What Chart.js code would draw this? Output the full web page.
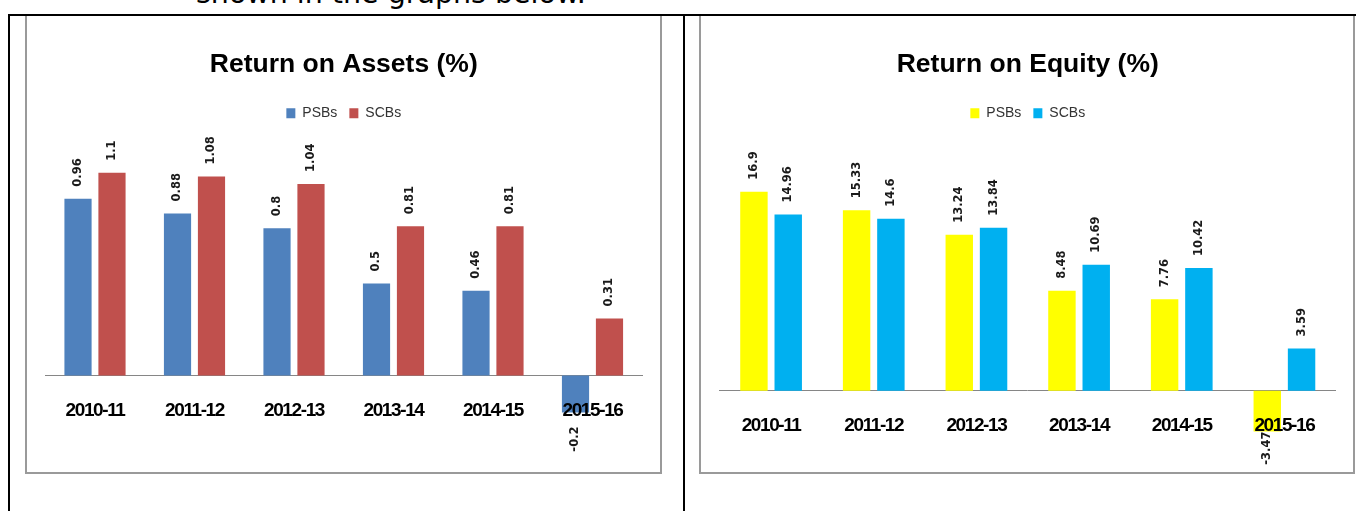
<!DOCTYPE html>
<html>
<head>
<meta charset="utf-8">
<title>Return on Assets / Return on Equity</title>
<script src="https://cdn.jsdelivr.net/npm/chart.js@4.4.0/dist/chart.umd.min.js"></script>
<style>
  html, body { margin: 0; padding: 0; background: #fff; }
  body { width: 1356px; height: 511px; position: relative; overflow: hidden; }
  .lead { position: absolute; left: 196px; top: -20px; font: 28.5px/1 "DejaVu Sans", sans-serif; color: #000; white-space: nowrap; }
  .box { position: absolute; top: 14px; height: 460px; border: 2px solid #9a9a9a; box-sizing: border-box; }
  .rule-h { position: absolute; left: 8px; top: 14px; width: 1348px; height: 2px; background: #000; }
  .rule-v { position: absolute; top: 14px; width: 2px; height: 497px; background: #000; }
  canvas { position: absolute; }
</style>
</head>
<body>
<div class="lead">shown in the graphs below.</div>

<div class="box" style="left:25px;width:637px"></div>
<div class="box" style="left:699px;width:656px"></div>
<canvas id="roaChart" width="633" height="456" style="left:27px;top:16px"></canvas>
<canvas id="roeChart" width="652" height="456" style="left:701px;top:16px"></canvas>

<div class="rule-h"></div>
<div class="rule-v" style="left:8px"></div>
<div class="rule-v" style="left:683px"></div>

<script>
'use strict';

// data
const years = ['2010-11', '2011-12', '2012-13', '2013-14', '2014-15', '2015-16'];
const seriesNames = ['PSBs', 'SCBs'];

const roaPSBs = [0.96, 0.88, 0.8, 0.5, 0.46, -0.2];
const roaSCBs = [1.1, 1.08, 1.04, 0.81, 0.81, 0.31];

const roePSBs = [16.9, 15.33, 13.24, 8.48, 7.76, -3.47];
const roeSCBs = [14.96, 14.6, 13.84, 10.69, 10.42, 3.59];

const SANS = "'Liberation Sans', Arial, sans-serif";

// rotated value labels above (or below) each bar, like the Excel original.
// The x tick labels are drawn after the datasets (ticks.z: 1), so the tight
// letter spacing set at the end here only applies to the category labels.
const barValueLabels = {
    id: 'barValueLabels',
    beforeDraw(chart) {
        chart.ctx.letterSpacing = '0px';
    },
    afterDatasetsDraw(chart, args, opts) {
        const ctx = chart.ctx;
        ctx.save();
        ctx.font = opts.font;
        ctx.fillStyle = opts.color;
        ctx.textBaseline = 'middle';
        chart.data.datasets.forEach((ds, i) => {
            chart.getDatasetMeta(i).data.forEach((bar, j) => {
                const v = ds.data[j];
                const neg = v < 0;
                ctx.save();
                ctx.translate(bar.x, neg ? bar.y + opts.negGap : bar.y - opts.gap);
                ctx.rotate(-Math.PI / 2);
                ctx.textAlign = neg ? 'right' : 'left';
                ctx.fillText(String(v), 0, 0);
                ctx.restore();
            });
        });
        ctx.restore();
        ctx.letterSpacing = opts.tickSpacing;
    },
    afterDraw(chart) {
        chart.ctx.letterSpacing = '0px';
    }
};

function makeChart(canvasId, title, psb, scb, colors, yMin, yMax, catPct, padLeft, padRight, negGap) {
    const ctx = document.getElementById(canvasId).getContext('2d');
    return new Chart(ctx, {
        type: 'bar',
        data: {
            labels: years,
            datasets: [
                { label: seriesNames[0], data: psb, backgroundColor: colors[0], categoryPercentage: catPct, barPercentage: 0.8 },
                { label: seriesNames[1], data: scb, backgroundColor: colors[1], categoryPercentage: catPct, barPercentage: 0.8 }
            ]
        },
        options: {
            responsive: false,
            animation: false,
            devicePixelRatio: 1,
            layout: { padding: { left: padLeft, right: padRight, top: 0, bottom: 16 } },
            plugins: {
                title: {
                    display: true,
                    text: title,
                    color: '#000',
                    font: { family: SANS, size: 26.5, weight: 'bold' },
                    padding: { top: 32.6, bottom: 13.85 }
                },
                legend: {
                    position: 'top',
                    labels: {
                        boxWidth: 9,
                        boxHeight: 10,
                        padding: 12,
                        color: '#333',
                        font: { family: SANS, size: 14 }
                    }
                },
                tooltip: { enabled: false },
                barValueLabels: {
                    font: "bold 11.5px 'DejaVu Sans', sans-serif",
                    color: '#1a1a1a',
                    gap: 12,
                    negGap: negGap,
                    tickSpacing: '-1.4px'
                }
            },
            scales: {
                x: {
                    position: { y: 0 },
                    grid: { display: false, drawTicks: false },
                    border: { display: true, color: '#868686', width: 1 },
                    ticks: { z: 1, padding: 23.5, maxRotation: 0, color: '#000', font: { family: SANS, size: 19, weight: 'bold' } }
                },
                y: { display: false, min: yMin, max: yMax }
            }
        },
        plugins: [barValueLabels]
    });
}

makeChart('roaChart', 'Return on Assets (%)', roaPSBs, roaSCBs, ['#4F81BD', '#C0504D'],
    -0.436, 1.331, 0.683, 18.25, 17.75, 14);
makeChart('roeChart', 'Return on Equity (%)', roePSBs, roeSCBs, ['#FFFF00', '#00B0F0'],
    -5.546, 22.12, 0.668, 18.75, 17.25, 0);
</script>
</body>
</html>
